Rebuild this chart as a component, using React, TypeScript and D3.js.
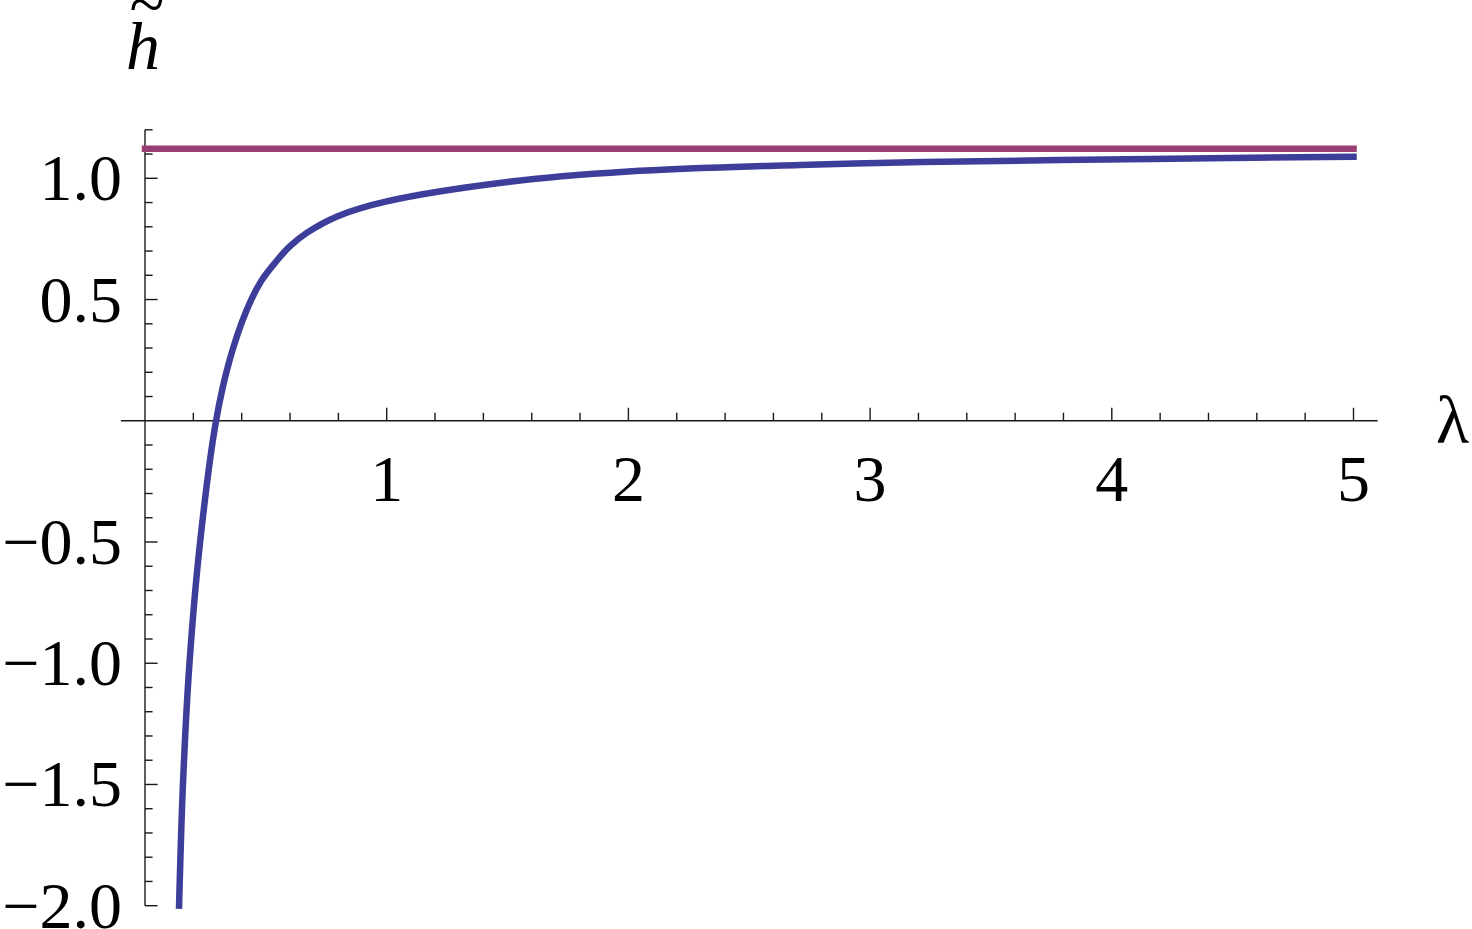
import React, { useEffect, useRef } from "react";
import * as d3 from "d3";

// blue curve
const lambdaValues = [0.141, 0.157, 0.184, 0.228, 0.294, 0.35, 0.42, 0.48, 0.545, 0.6, 0.669, 0.8, 1.0, 1.5, 2.0, 2.71, 3.217, 4.158, 5.0];
const hValues = [-2.0, -1.5, -1.0, -0.5, 0.0, 0.25, 0.455, 0.575, 0.66, 0.72, 0.775, 0.845, 0.905, 0.985, 1.028, 1.055, 1.067, 1.08, 1.089];

// purple horizontal limit
const limitLambda = [0, 5];
const limitValue = 1.122;

const xMajorTicks = [1, 2, 3, 4, 5];
const yMajorTicks = [-2, -1.5, -1, -0.5, 0.5, 1];

const BLUE = "#3d3e99";
const PURPLE = "#993d74";
const FONT = "'Liberation Serif', 'Times New Roman', serif";

export default function App() {
  const ref = useRef<SVGSVGElement>(null);

  useEffect(() => {
    const svg = d3.select(ref.current);
    svg.selectAll("*").remove();

    const x = d3.scaleLinear().domain([0, 5]).range([145, 1353.5]);
    const y = d3.scaleLinear().domain([-2, 1]).range([905.7, 178.3]);

    const axes = svg.append("g").attr("stroke", "#1a1a1a").attr("stroke-width", 1.4);

    // x axis (at h = 0), ticks pointing up
    axes.append("line")
      .attr("x1", x(-0.1)).attr("x2", x(5.1))
      .attr("y1", y(0)).attr("y2", y(0));
    const xMinor = d3.range(1, 26).map(i => i * 0.2);
    axes.selectAll(".xt")
      .data(xMinor)
      .join("line")
      .attr("x1", d => x(d)).attr("x2", d => x(d))
      .attr("y1", y(0))
      .attr("y2", d => y(0) - (Math.abs(d - Math.round(d)) < 1e-6 ? 13 : 8));

    // y axis (at lambda = 0), ticks pointing right
    axes.append("line")
      .attr("x1", x(0)).attr("x2", x(0))
      .attr("y1", y(-2)).attr("y2", y(1.2));
    const yMinor = d3.range(-20, 13).map(i => i / 10).filter(d => Math.abs(d) > 1e-6);
    axes.selectAll(".yt")
      .data(yMinor)
      .join("line")
      .attr("x1", x(0))
      .attr("x2", d => x(0) + (Math.abs(d * 2 - Math.round(d * 2)) < 1e-6 ? 12.6 : 7.6))
      .attr("y1", d => y(d)).attr("y2", d => y(d));

    // tick labels
    svg.append("g")
      .attr("font-family", FONT)
      .attr("font-size", 66)
      .attr("text-anchor", "middle")
      .selectAll("text")
      .data(xMajorTicks)
      .join("text")
      .attr("x", d => x(d))
      .attr("y", y(0) + 80)
      .text(d => String(d));

    svg.append("g")
      .attr("font-family", FONT)
      .attr("font-size", 66)
      .attr("text-anchor", "end")
      .selectAll("text")
      .data(yMajorTicks)
      .join("text")
      .attr("x", 122)
      .attr("y", d => y(d) + 22)
      .text(d => d3.format(".1f")(d));

    // curves
    const line = d3.line<[number, number]>()
      .x(d => x(d[0]))
      .y(d => y(d[1]))
      .curve(d3.curveCatmullRom.alpha(0.5));

    svg.append("path")
      .datum(limitLambda.map(l => [l, limitValue] as [number, number]))
      .attr("d", line)
      .attr("fill", "none")
      .attr("stroke", PURPLE)
      .attr("stroke-width", 6.5)
      .attr("stroke-linecap", "square");

    svg.append("path")
      .datum(lambdaValues.map((l, i) => [l, hValues[i]] as [number, number]))
      .attr("d", line)
      .attr("fill", "none")
      .attr("stroke", BLUE)
      .attr("stroke-width", 6.5)
      .attr("stroke-linecap", "square");

    // axis labels
    svg.append("text")
      .attr("x", 1436)
      .attr("y", 443)
      .attr("font-family", FONT)
      .attr("font-size", 68)
      .text("λ");

    const hLabel = svg.append("g").attr("font-family", FONT).attr("font-style", "italic");
    hLabel.append("text")
      .attr("x", 126)
      .attr("y", 69)
      .attr("font-size", 68)
      .text("h");
    hLabel.append("text")
      .attr("x", 146)
      .attr("y", 26)
      .attr("text-anchor", "middle")
      .attr("font-size", 64)
      .text("~");
  }, []);

  return (
    <svg
      ref={ref}
      width={1472}
      height={929}
      style={{ position: "absolute", left: 0, top: 0, background: "#fff" }}
    />
  );
}
